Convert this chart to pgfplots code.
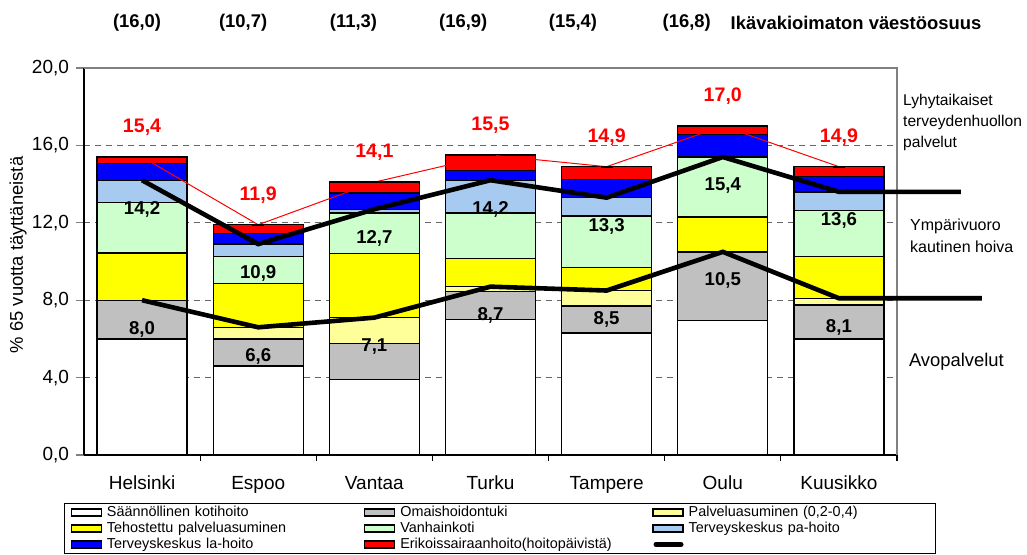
\documentclass[border=0pt]{standalone}
\usepackage{fontspec}
\setmainfont{Liberation Sans}
\usepackage{pgfplots}
\usepackage{pgfplotstable}
\pgfplotsset{compat=1.18}

\definecolor{cGray}{RGB}{192,192,192}
\definecolor{cLightYellow}{RGB}{255,255,153}
\definecolor{cYellow}{RGB}{255,255,0}
\definecolor{cGreen}{RGB}{204,255,204}
\definecolor{cLightBlue}{RGB}{166,202,240}
\definecolor{cBlue}{RGB}{0,0,255}
\definecolor{cRed}{RGB}{255,0,0}

\pgfplotsset{
  /pgf/number format/assume math mode=true,
  base/.style={
    scale only axis, width=406.5pt, height=193.5pt,
    xmin=-0.5, xmax=6.5, ymin=0, ymax=20,
    at={(0,0)}, anchor=south west,
  },
  barleg/.style={legend image code/.code={\draw[##1] (0pt,-1.8pt) rectangle (15pt,1.8pt);}},
}
\newcommand{\legtxt}[1]{\hspace{1.5pt}#1}

% segments of each bar, % of population aged 65+
\pgfplotstableread{
x  koti  omais  pasum  tehost  vanh  pahoito  lahoito  esh
0  6.00  2.00   0.00   2.45    2.60  1.15     0.85     0.35
1  4.60  1.40   0.60   2.25    1.40  0.65     0.55     0.45
2  3.90  1.85   1.35   3.30    2.10  0.20     0.85     0.55
3  7.00  1.45   0.25   1.45    2.35  1.70     0.50     0.80
4  6.30  1.40   0.80   1.20    2.65  0.95     0.95     0.65
5  6.95  3.55   0.00   1.80    3.10  0.00     1.15     0.45
6  6.00  1.75   0.35   2.15    2.40  0.95     0.80     0.50
}\bars

\begin{document}
\begin{tikzpicture}
\path[use as bounding box] (-42pt,-49.5pt) rectangle (471.5pt,227.5pt);

\begin{axis}[base,
  ybar stacked, bar width=45pt,
  axis x line*=bottom, axis y line*=left,
  axis line style={-, line width=0.8pt},
  xtick={0,...,6},
  xticklabels={Helsinki,Espoo,Vantaa,Turku,Tampere,Oulu,Kuusikko},
  xtick style={draw=none},
  xticklabel style={yshift=-3pt},
  ytick={0,4,...,20},
  tick align=outside, major tick length=4pt,
  ytick style={line width=0.6pt},
  yticklabel style={/pgf/number format/.cd, fixed, fixed zerofill, precision=1, use comma},
  tick label style={font=\fontsize{9.5}{11}\selectfont},
  ymajorgrids, grid style={gray!80!black, line width=0.6pt, dash pattern=on 3pt off 2.5pt},
  ylabel={\% 65 vuotta täyttäneistä},
  ylabel style={font=\fontsize{9.2}{10}\selectfont, at={(axis description cs:-0.081,0.517)}, anchor=center},
  every axis plot/.append style={draw=black, line width=0.7pt},
  legend columns=3,
  legend cell align=left,
  legend style={at={(axis description cs:-0.0246,-0.124)}, anchor=north west,
    draw=black, line width=0.5pt, font=\fontsize{7.2}{8}\selectfont,
    inner xsep=3pt, inner ysep=0.5pt, row sep=0pt, column sep=0pt,
    nodes={inner xsep=1pt, inner ysep=0.8pt, text height=5pt, text depth=1.4pt},
    /tikz/column 2/.style={text width=129pt},
    /tikz/column 4/.style={text width=126.5pt},
    /tikz/column 6/.style={text width=121pt}},
]
\addplot[barleg, fill=white] table[x=x, y=koti] {\bars};
\addlegendentry{\legtxt{Säännöllinen kotihoito}}
\addplot[barleg, fill=cGray] table[x=x, y=omais] {\bars};
\addlegendentry{\legtxt{Omaishoidontuki}}
\addplot[barleg, fill=cLightYellow] table[x=x, y=pasum] {\bars};
\addlegendentry{\legtxt{Palveluasuminen (0,2-0,4)}}
\addplot[barleg, fill=cYellow] table[x=x, y=tehost] {\bars};
\addlegendentry{\legtxt{Tehostettu palveluasuminen}}
\addplot[barleg, fill=cGreen] table[x=x, y=vanh] {\bars};
\addlegendentry{\legtxt{Vanhainkoti}}
\addplot[barleg, fill=cLightBlue] table[x=x, y=pahoito] {\bars};
\addlegendentry{\legtxt{Terveyskeskus pa-hoito}}
\addplot[barleg, fill=cBlue] table[x=x, y=lahoito] {\bars};
\addlegendentry{\legtxt{Terveyskeskus la-hoito}}
\addplot[barleg, fill=cRed] table[x=x, y=esh] {\bars};
\addlegendentry{\legtxt{Erikoissairaanhoito(hoitopäivistä)}}
\addlegendimage{legend image code/.code={\draw[black, line width=2.5pt, line cap=round] (1.5pt,0pt) -- (14pt,0pt);}}
\addlegendentry{}
\end{axis}

\begin{axis}[base,
  clip=false,
  axis x line*=bottom, axis y line=none,
  axis line style={draw=none},
  xtick={0.5,1.5,...,6.5}, xticklabels={},
  tick align=outside, major tick length=3pt,
  xtick style={black, line width=0.6pt},
  nodes near coords={\pgfmathprintnumber[fixed,fixed zerofill,precision=1,use comma]{\pgfplotspointmeta}},
]
\draw[gray, line width=0.6pt] (rel axis cs:0,1) -- (rel axis cs:1,1) -- (rel axis cs:1,0);

% total of all services
\addplot[cRed, line width=0.5pt, mark=-, mark size=3pt, mark options={black, line width=1pt},
  every node near coord/.append style={cRed, anchor=center, yshift=15pt, font=\bfseries\fontsize{9.8}{11}\selectfont}]
  coordinates {(0,15.4) (1,11.9) (2,14.1) (3,15.5) (4,14.9) (5,17.0) (6,14.9)};

% round-the-clock care
\addplot[black, line width=2.3pt, no markers, nodes near coords=]
  coordinates {(0,14.2) (1,10.9) (2,12.7) (3,14.2) (4,13.3) (5,15.4) (6,13.6) (7.05,13.6)};
\addplot[draw=none, no markers,
  every node near coord/.append style={black, anchor=center, yshift=-14.5pt, font=\bfseries\fontsize{9.3}{10}\selectfont}]
  coordinates {(0,14.2) (1,10.9) (2,12.7) (3,14.2) (4,13.3) (5,15.4) (6,13.6)};

% open care
\addplot[black, line width=2.3pt, no markers, nodes near coords=]
  coordinates {(0,8.0) (1,6.6) (2,7.1) (3,8.7) (4,8.5) (5,10.5) (6,8.1) (7.23,8.1)};
\addplot[draw=none, no markers,
  every node near coord/.append style={black, anchor=center, yshift=-14.5pt, font=\bfseries\fontsize{9.3}{10}\selectfont}]
  coordinates {(0,8.0) (1,6.6) (2,7.1) (3,8.7) (4,8.5) (5,10.5) (6,8.1)};

\begin{scope}[font=\bfseries\fontsize{9.2}{11}\selectfont]
\node at (axis cs:-0.043,22.33) {(16,0)};
\node at (axis cs:0.87,22.33) {(10,7)};
\node at (axis cs:1.82,22.33) {(11,3)};
\node at (axis cs:2.765,22.33) {(16,9)};
\node at (axis cs:3.71,22.33) {(15,4)};
\node at (axis cs:4.69,22.33) {(16,8)};
\node[anchor=west, inner sep=0pt] at (axis cs:5.065,22.33) {Ikävakioimaton väestöosuus};
\end{scope}
\node[anchor=west, align=left, inner sep=0pt, font=\fontsize{7.8}{10.5}\selectfont] at (axis cs:6.55,17.2) {Lyhytaikaiset\\terveydenhuollon\\palvelut};
\node[anchor=west, align=left, inner sep=0pt, font=\fontsize{8}{11}\selectfont] at (axis cs:6.61,11.32) {Ympärivuoro\\kautinen hoiva};
\node[anchor=west, inner sep=0pt, font=\fontsize{9.2}{11}\selectfont] at (axis cs:6.6,4.8) {Avopalvelut};
\end{axis}
\end{tikzpicture}
\end{document}
